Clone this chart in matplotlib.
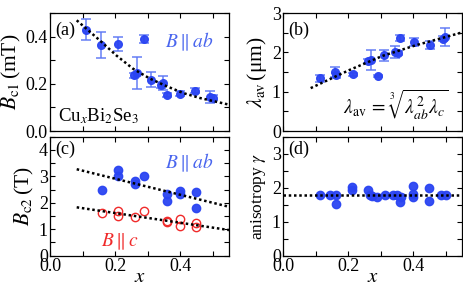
import matplotlib
matplotlib.use("Agg")
import matplotlib.pyplot as plt
from matplotlib.ticker import MultipleLocator

plt.rcParams['font.family'] = ['Liberation Serif', 'DejaVu Serif']
plt.rcParams['mathtext.fontset'] = 'stix'

# ---------------- data ----------------
# (a) Bc1 (mT) vs x
a_x = [0.110, 0.158, 0.210, 0.289, 0.258, 0.268, 0.309, 0.340, 0.348, 0.358, 0.399, 0.447, 0.491, 0.501]
a_y = [0.429, 0.366, 0.369, 0.391, 0.236, 0.246, 0.217, 0.194, 0.203, 0.151, 0.158, 0.171, 0.144, 0.141]
a_err = [0.045, 0.055, 0.030, 0.017, 0.010, 0.067, 0.032, 0.012, 0.028, 0.008, 0.010, 0.010, 0.025, 0.010]
a_fit_x = [0.082, 0.153, 0.204, 0.255, 0.307, 0.358, 0.409, 0.460, 0.552]
a_fit_y = [0.469, 0.384, 0.320, 0.264, 0.222, 0.190, 0.161, 0.140, 0.111]

# (b) lambda_av (um) vs x
b_x = [0.114, 0.160, 0.162, 0.214, 0.262, 0.270, 0.293, 0.311, 0.345, 0.353, 0.361, 0.404, 0.452, 0.492, 0.498]
b_y = [1.336, 1.500, 1.420, 1.437, 1.780, 1.807, 1.400, 1.920, 2.010, 1.980, 2.360, 2.260, 2.180, 2.350, 2.390]
b_err = [0.10, 0.13, 0.06, 0.05, 0.05, 0.25, 0.03, 0.14, 0.15, 0.06, 0.07, 0.10, 0.10, 0.06, 0.22]
b_fit_x = [0.085, 0.204, 0.306, 0.408, 0.500, 0.552]
b_fit_y = [1.09, 1.55, 1.91, 2.18, 2.39, 2.51]

# (c) Bc2 (T) vs x
c_ab_x = [0.160, 0.210, 0.210, 0.261, 0.261, 0.289, 0.358, 0.358, 0.399, 0.399, 0.448, 0.448]
c_ab_y = [2.49, 3.23, 3.00, 2.84, 2.72, 3.01, 2.33, 2.05, 2.45, 2.33, 2.39, 1.80]
c_c_x = [0.160, 0.210, 0.210, 0.261, 0.289, 0.358, 0.358, 0.399, 0.399, 0.448, 0.448]
c_c_y = [1.61, 1.70, 1.49, 1.45, 1.70, 1.32, 1.29, 1.38, 1.13, 1.22, 1.09]
c_fit_ab_x = [0.082, 0.550]
c_fit_ab_y = [3.27, 1.85]
c_fit_c_x = [0.082, 0.550]
c_fit_c_y = [1.83, 0.97]

# (d) anisotropy gamma vs x
d_x = [0.113, 0.143, 0.162, 0.162, 0.212, 0.212, 0.261, 0.266, 0.274, 0.288, 0.312, 0.337,
       0.350, 0.361, 0.363, 0.400, 0.400, 0.400, 0.450, 0.450, 0.486, 0.501]
d_y = [1.80, 1.80, 1.80, 1.53, 2.02, 1.92, 1.92, 1.80, 1.77, 1.74, 1.80, 1.80,
       1.80, 1.57, 1.72, 2.05, 1.72, 1.82, 1.99, 1.60, 1.80, 1.80]
d_fit_x = [0.0, 0.55]
d_fit_y = [1.80, 1.80]

# ---------------- style ----------------
blue = '#2a44f2'
blue_err = '#5d78f5'
blue_txt = '#4a66ee'
red = '#f02a2a'
fit_kw = dict(color='black', lw=1.8, ls=(0, (1, 1.1)))

fig = plt.figure(figsize=(4.64, 2.88), dpi=100)
W, H = 464, 288
def ax_at(l, t, r, b):
    return fig.add_axes([l / W, 1 - b / H, (r - l) / W, (b - t) / H])

ax_a = ax_at(50, 13, 229, 131)
ax_b = ax_at(283, 13, 462, 131)
ax_c = ax_at(50, 136.7, 229, 255.7)
ax_d = ax_at(283, 136.7, 462, 255.7)

for ax in (ax_a, ax_b, ax_c, ax_d):
    ax.set_xlim(0, 0.55)
    ax.xaxis.set_major_locator(MultipleLocator(0.2))
    ax.xaxis.set_minor_locator(MultipleLocator(0.1))
    ax.tick_params(which='both', direction='in', top=True, right=True,
                   length=3.5, width=0.8, labelsize=13, pad=1.5)
    for s in ax.spines.values():
        s.set_linewidth(0.9)

# (a)
ax_a.plot(a_fit_x, a_fit_y, **fit_kw, zorder=3)
ax_a.errorbar(a_x, a_y, yerr=a_err, fmt='o', ms=5.5, color=blue, ecolor=blue_err,
              elinewidth=1.1, capsize=3.5, capthick=1.1, alpha=0.95, zorder=2)
ax_a.set_ylim(0, 0.5)
ax_a.yaxis.set_major_locator(MultipleLocator(0.2))
ax_a.yaxis.set_minor_locator(MultipleLocator(0.1))
ax_a.tick_params(labelbottom=False)
ax_a.set_ylabel(r'$B_{\rm c1}\,$(mT)', fontsize=15.5, labelpad=2)
ax_a.text(0.03, 0.93, '(a)', transform=ax_a.transAxes, fontsize=13, va='top', ha='left')
ax_a.text(0.78, 0.76, r'$B\parallel ab$', transform=ax_a.transAxes, fontsize=14,
          color=blue_txt, ha='center', va='center')
ax_a.text(0.27, 0.13, r'Cu$_x$Bi$_2$Se$_3$', transform=ax_a.transAxes, fontsize=13.5,
          ha='center', va='center')

# (b)
ax_b.plot(b_fit_x, b_fit_y, **fit_kw, zorder=3)
ax_b.errorbar(b_x, b_y, yerr=b_err, fmt='o', ms=5.5, color=blue, ecolor=blue_err,
              elinewidth=1.1, capsize=3.5, capthick=1.1, alpha=0.95, zorder=2)
ax_b.set_ylim(0, 3)
ax_b.yaxis.set_major_locator(MultipleLocator(1))
ax_b.yaxis.set_minor_locator(MultipleLocator(0.5))
ax_b.tick_params(labelbottom=False)
ax_b.set_ylabel(r'$\lambda_{\rm av}\,$(μm)', fontsize=15.5, labelpad=2)
ax_b.text(0.03, 0.93, '(b)', transform=ax_b.transAxes, fontsize=13, va='top', ha='left')
ax_b.text(0.63, 0.22, r'$\lambda_{\rm av}\,=\,\sqrt[3]{\lambda_{ab}^{2}\lambda_{c}}$',
          transform=ax_b.transAxes, fontsize=14, ha='center', va='center')

# (c)
ax_c.plot(c_fit_ab_x, c_fit_ab_y, **fit_kw, zorder=3)
ax_c.plot(c_fit_c_x, c_fit_c_y, **fit_kw, zorder=3)
ax_c.plot(c_ab_x, c_ab_y, 'o', ms=6, color=blue, alpha=0.95, zorder=2)
ax_c.plot(c_c_x, c_c_y, 'o', ms=6, mfc='none', mec=red, mew=1.0, zorder=2)
ax_c.set_ylim(0, 4.5)
ax_c.yaxis.set_major_locator(MultipleLocator(1))
ax_c.yaxis.set_minor_locator(MultipleLocator(0.5))
ax_c.set_ylabel(r'$B_{\rm c2}\,$(T)', fontsize=15.5, labelpad=2)
ax_c.set_xlabel(r'$x$', fontsize=15, labelpad=-5)
ax_c.text(0.03, 0.97, '(c)', transform=ax_c.transAxes, fontsize=13, va='top', ha='left')
ax_c.text(0.78, 0.78, r'$B\parallel ab$', transform=ax_c.transAxes, fontsize=14,
          color=blue_txt, ha='center', va='center')
ax_c.text(0.39, 0.12, r'$B\parallel c$', transform=ax_c.transAxes, fontsize=14,
          color=red, ha='center', va='center')

# (d)
ax_d.plot(d_fit_x, d_fit_y, **fit_kw, zorder=3)
ax_d.plot(d_x, d_y, 'o', ms=6, color=blue, alpha=0.95, zorder=2)
ax_d.set_ylim(0, 3.5)
ax_d.yaxis.set_major_locator(MultipleLocator(1))
ax_d.yaxis.set_minor_locator(MultipleLocator(0.5))
ax_d.set_ylabel(r'anisotropy $\gamma$', fontsize=12.5, labelpad=3)
ax_d.set_xlabel(r'$x$', fontsize=15, labelpad=-5)
ax_d.text(0.03, 0.97, '(d)', transform=ax_d.transAxes, fontsize=13, va='top', ha='left')

fig.savefig('out.png', dpi=100)
